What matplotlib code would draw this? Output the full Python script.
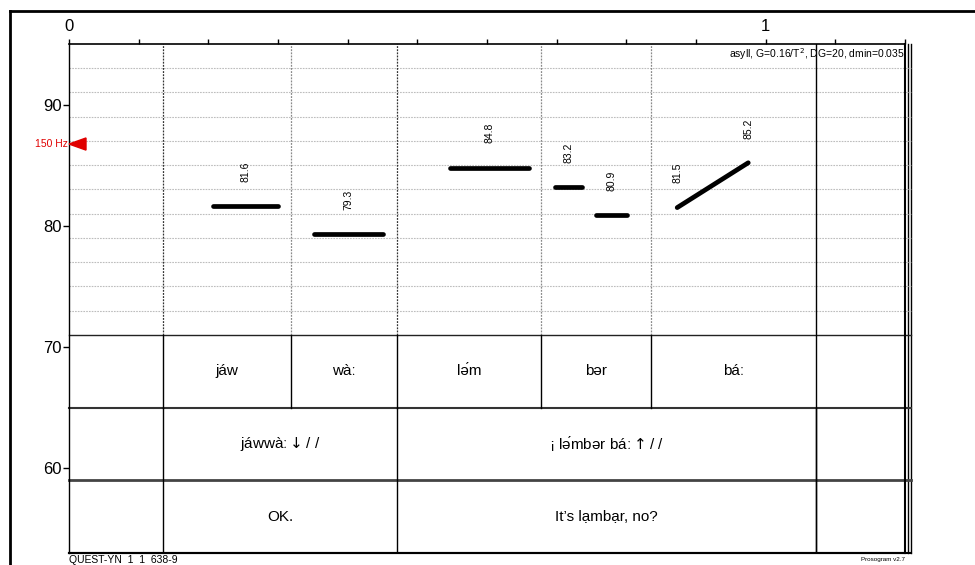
import numpy as np
import matplotlib
matplotlib.use("Agg")
import matplotlib.pyplot as plt
from matplotlib.lines import Line2D
from matplotlib.patches import Polygon

plt.rcParams['font.family'] = ['Liberation Sans', 'DejaVu Sans']

# ---- data ----
syll_bounds = [0.135, 0.318, 0.471, 0.677, 0.835, 1.072]
syll_labels = ["jáw", "wàː", "lə́m", "bər", "báː"]
bound_styles = ["dark", "light", "dark", "light", "light", "solid"]
phrase_bounds = [0.135, 0.471, 1.072]
phrase_labels = ["jáwwàː$\\downarrow$/ /", "¡ lə́mbər báː$\\uparrow$/ /"]
gloss_labels = ["OK.", "It’s lạmbạr, no?"]

nuc_t0 = [0.2065, 0.352, 0.547, 0.697, 0.757, 0.873]
nuc_t1 = [0.3007, 0.4507, 0.661, 0.737, 0.801, 0.975]
nuc_p0 = [81.6, 79.3, 84.8, 83.2, 80.9, 81.5]
nuc_p1 = [81.6, 79.3, 84.8, 83.2, 80.9, 85.2]

grid_levels = [73, 75, 77, 79, 81, 83, 85, 87, 89, 91, 93]
ytick_vals = [60, 70, 80, 90]
tier_lines = [71, 65, 59, 53]
ref_st = 12 * np.log2(150)  # 150 Hz in semitones

fig = plt.figure(figsize=(9.75, 5.65), dpi=100)
ax = fig.add_axes([69 / 975, 12 / 565, 836 / 975, 509 / 565])
ax.set_xlim(0, 1.2)
ax.set_ylim(53, 95)

px = 1.2 / 836.0  # seconds per pixel
xr = 1.2 + 6 * px

# spines
for s in ['left', 'top', 'right', 'bottom']:
    ax.spines[s].set_color('black')
ax.spines['left'].set_linewidth(1.0)
ax.spines['top'].set_linewidth(1.2)
ax.spines['right'].set_linewidth(1.5)
ax.spines['bottom'].set_linewidth(1.5)

# extra right edge lines
for dx in (3 * px, 6 * px):
    ax.plot([1.2 + dx, 1.2 + dx], [53, 95], color='black', lw=1.0, clip_on=False)

# grid lines in pitch area
for g in grid_levels:
    ax.plot([0, xr], [g, g], color='#bdbdbd', lw=0.8, ls=(0, (1.5, 1)), clip_on=False)

# tier lines
for yv, lw, col in zip(tier_lines[:3], [1.0, 1.5, 2.0], ['#222222', '#333333', '#444444']):
    ax.plot([0, xr], [yv, yv], color=col, lw=lw, clip_on=False)
ax.plot([0, xr], [53, 53], color='black', lw=1.5, clip_on=False)

# syllable boundaries in pitch area
for b, st in zip(syll_bounds, bound_styles):
    if st == 'solid':
        ax.plot([b, b], [53, 95], color='black', lw=1.0)
    else:
        c = '#333333' if st == 'dark' else '#8a8a8a'
        ax.plot([b, b], [71, 95], color=c, lw=0.9, ls=(0, (1.5, 1)))
        ax.plot([b, b], [65, 71], color='black', lw=1.0)

# phrase / gloss boundaries
for b in phrase_bounds:
    ax.plot([b, b], [53, 65], color='black', lw=1.0)

# tier texts
for i, lab in enumerate(syll_labels):
    xc = (syll_bounds[i] + syll_bounds[i + 1]) / 2
    ax.text(xc, 68, lab, ha='center', va='center', fontsize=11)
for i, lab in enumerate(phrase_labels):
    xc = (phrase_bounds[i] + phrase_bounds[i + 1]) / 2
    ax.text(xc, 62, lab, ha='center', va='center', fontsize=11)
for i, lab in enumerate(gloss_labels):
    xc = (phrase_bounds[i] + phrase_bounds[i + 1]) / 2
    ax.text(xc, 56, lab, ha='center', va='center', fontsize=11)

# nuclei
for t0, t1, p0, p1 in zip(nuc_t0, nuc_t1, nuc_p0, nuc_p1):
    ax.plot([t0, t1], [p0, p1], color='black', lw=3.4, solid_capstyle='round', zorder=5)
    if abs(p1 - p0) < 0.05:
        ax.text((t0 + t1) / 2, p0 + 2, f"{p0:.1f}", rotation=90, ha='center', va='bottom', fontsize=7.5)
    else:
        ax.text(t0, p0 + 2, f"{p0:.1f}", rotation=90, ha='center', va='bottom', fontsize=7.5)
        ax.text(t1, p1 + 2, f"{p1:.1f}", rotation=90, ha='center', va='bottom', fontsize=7.5)

# 150 Hz marker
tri = Polygon([[0, ref_st], [17 * px, ref_st + 0.5], [17 * px, ref_st - 0.5]], closed=True,
              color='#e00000', clip_on=False, zorder=6)
ax.add_patch(tri)
ax.text(-1 * px, ref_st, "150 Hz", ha='right', va='center', fontsize=7.5, color='#e00000')

# parameters text
ax.text(1.2, 94.2, "asyll, G=0.16/T$^2$, DG=20, dmin=0.035", ha='right', va='center', fontsize=7.5)

# ticks
ax.xaxis.tick_top()
ax.set_xticks([0, 1])
ax.set_xticklabels(["0", "1"])
ax.set_xticks(np.arange(0, 1.21, 0.1), minor=True)
ax.tick_params(axis='x', which='both', direction='out', length=3.5, width=1.0, labelsize=12, pad=4)
ax.set_yticks(ytick_vals)
ax.set_yticklabels([str(v) for v in ytick_vals])
ax.tick_params(axis='y', which='both', direction='out', length=4, width=1.0, labelsize=12, pad=1)
ax.yaxis.set_ticks_position('left')

# figure frame
fig.add_artist(Line2D([9.5 / 975, 1.0], [1 - 11 / 565, 1 - 11 / 565], color='black', lw=2.0))
fig.add_artist(Line2D([9.5 / 975, 9.5 / 975], [1 - 11 / 565, 0], color='black', lw=2.0))

# footer texts
fig.text(69 / 975, 1 - 560 / 565, "QUEST-YN  1  1  638-9", ha='left', va='center', fontsize=7.5,
         family=['Liberation Sans Narrow', 'Liberation Sans', 'DejaVu Sans'])
fig.text(905 / 975, 1 - 559 / 565, "Prosogram v2.7", ha='right', va='center', fontsize=4.5,
         family=['Liberation Sans Narrow', 'Liberation Sans', 'DejaVu Sans'])

fig.savefig("out.png", dpi=100)
